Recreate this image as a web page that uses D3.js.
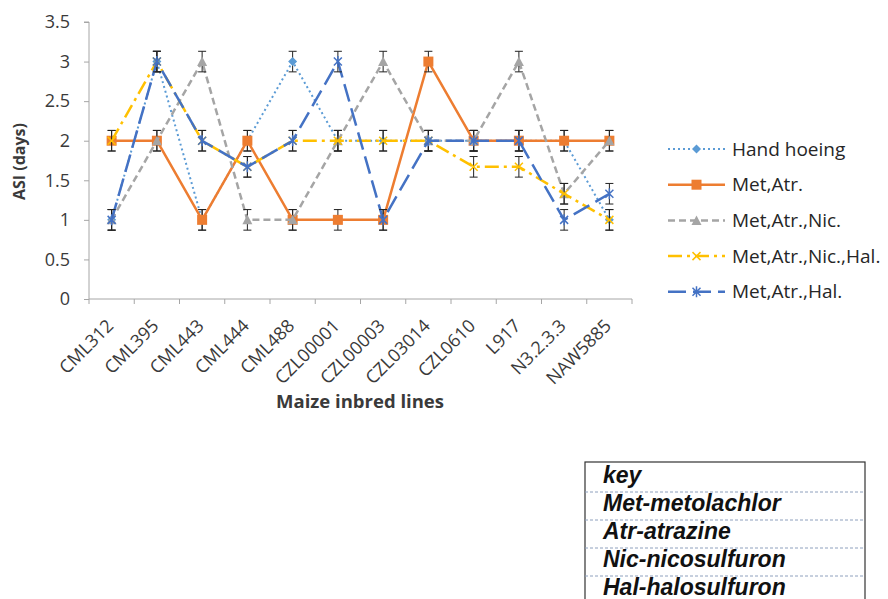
<!DOCTYPE html>
<html>
<head>
<meta charset="utf-8">
<script src="https://cdn.jsdelivr.net/npm/d3@7"></script>
<style>
  body { margin: 0; background: #fff; }
  svg { display: block; }
</style>
</head>
<body>
<svg id="chart"></svg>
<script>
const WIDTH = 888;
const HEIGHT = 599;

// Plot area edges, in pixels.
const LEFT = 89;
const RIGHT = 632;
const TOP = 22;
const BOTTOM = 299;

const ERR = 0.13; // error bar half length, in days

const lines = ['CML312', 'CML395', 'CML443', 'CML444', 'CML488', 'CZL00001',
  'CZL00003', 'CZL03014', 'CZL0610', 'L917', 'N3.2.3.3', 'NAW5885'];

const seriesNames = ['Hand hoeing', 'Met,Atr.', 'Met,Atr.,Nic.',
  'Met,Atr.,Nic.,Hal.', 'Met,Atr.,Hal.'];

const handHoeing = [1, 3, 1, 2, 3, 2, 2, 2, 2, 2, 2, 1];
const metAtr = [2, 2, 1, 2, 1, 1, 1, 3, 2, 2, 2, 2];
const metAtrNic = [1, 2, 3, 1, 1, 2, 3, 2, 2, 3, 1.33, 2];
const metAtrNicHal = [2, 3, 2, 1.67, 2, 2, 2, 2, 1.67, 1.67, 1.33, 1];
const metAtrHal = [1, 3, 2, 1.67, 2, 3, 1, 2, 2, 2, 1, 1.33];

const yTicks = [0, 0.5, 1, 1.5, 2, 2.5, 3, 3.5];

const keyRows = ['key', 'Met-metolachlor', 'Atr-atrazine', 'Nic-nicosulfuron',
  'Hal-halosulfuron'];

// Drawing style of each series, in the same order as seriesNames.
const styles = [
  {color: '#5b9bd5', dash: '2,3', marker: 'diamond', width: 2},
  {color: '#ed7d31', dash: null, marker: 'square', width: 2.5},
  {color: '#a5a5a5', dash: '7,4', marker: 'triangle', width: 2.5},
  {color: '#ffc000', dash: '14,5,3,5', marker: 'x', width: 2.5},
  {color: '#4472c4', dash: '18,7', marker: 'star', width: 2.5}
];

const allValues = [handHoeing, metAtr, metAtrNic, metAtrNicHal, metAtrHal];
const series = seriesNames.map((name, i) => ({
  name,
  style: styles[i],
  values: allValues[i].map((v, j) => ({line: lines[j], value: v}))
}));

const svg = d3.select('#chart').attr('width', WIDTH).attr('height', HEIGHT);

const xScale = d3.scaleBand().domain(lines).range([LEFT, RIGHT]);
const yScale = d3.scaleLinear().domain([0, 3.5]).range([BOTTOM, TOP]);
const cx = d => xScale(d.line) + xScale.bandwidth() / 2;

const FONT = "'Open Sans', sans-serif";
const TEXT_COLOR = '#3a3a3a';
const AXIS_COLOR = '#a6a6a6';

// Y axis
const yAxisGroup = svg.append('g')
  .attr('transform', `translate(${LEFT},0)`)
  .call(d3.axisLeft(yScale).tickValues(yTicks).tickSize(5).tickPadding(14)
    .tickFormat(d3.format('')));
yAxisGroup.selectAll('path, line').attr('stroke', AXIS_COLOR);
yAxisGroup.select('.domain').attr('d', `M-5,${TOP}H0V${BOTTOM}`);
yAxisGroup.selectAll('text')
  .attr('font-family', FONT).attr('font-size', 18).attr('fill', TEXT_COLOR);

// X axis: ticks sit on the category boundaries, as in the reference.
const xAxisGroup = svg.append('g')
  .attr('transform', `translate(0,${BOTTOM})`);
xAxisGroup.append('line')
  .attr('x1', LEFT).attr('x2', RIGHT).attr('stroke', AXIS_COLOR);
xAxisGroup.selectAll('.tick')
  .data(lines.concat(['end']))
  .join('line')
  .attr('x1', (d, i) => LEFT + i * xScale.bandwidth())
  .attr('x2', (d, i) => LEFT + i * xScale.bandwidth())
  .attr('y1', 0).attr('y2', 5)
  .attr('stroke', AXIS_COLOR);
xAxisGroup.selectAll('text')
  .data(lines)
  .join('text')
  .attr('transform', d => `translate(${xScale(d) + xScale.bandwidth() / 2 + 3},28) rotate(-45)`)
  .attr('text-anchor', 'end')
  .attr('font-family', FONT).attr('font-size', 18).attr('fill', TEXT_COLOR)
  .text(d => d);

// Axis titles
svg.append('text')
  .attr('transform', `translate(25,${(TOP + BOTTOM) / 2 + 1}) rotate(-90)`)
  .attr('text-anchor', 'middle')
  .attr('font-family', FONT).attr('font-size', 16).attr('font-weight', 'bold')
  .attr('fill', TEXT_COLOR)
  .text('ASI (days)');
svg.append('text')
  .attr('x', 360).attr('y', 408)
  .attr('text-anchor', 'middle')
  .attr('font-family', FONT).attr('font-size', 18.5).attr('font-weight', 'bold')
  .attr('fill', TEXT_COLOR)
  .text('Maize inbred lines');

// Markers
function drawMarker(g, style) {
  const c = style.color;
  switch (style.marker) {
    case 'diamond':
      g.append('path').attr('d', 'M0,-4.5L4.5,0L0,4.5L-4.5,0Z').attr('fill', c);
      break;
    case 'square':
      g.append('rect').attr('x', -5).attr('y', -5).attr('width', 10).attr('height', 10)
        .attr('fill', c);
      break;
    case 'triangle':
      g.append('path').attr('d', 'M0,-5L5,4.5L-5,4.5Z').attr('fill', c);
      break;
    case 'x':
      g.append('path').attr('d', 'M-4,-4L4,4M-4,4L4,-4')
        .attr('stroke', c).attr('stroke-width', 1.5).attr('fill', 'none');
      break;
    case 'star':
      g.append('path').attr('d', 'M-4,-4L4,4M-4,4L4,-4M0,-5.5V5.5')
        .attr('stroke', c).attr('stroke-width', 1.5).attr('fill', 'none');
      break;
  }
}

const lineGen = d3.line().x(cx).y(d => yScale(d.value));

const plot = svg.append('g');
series.forEach(s => {
  const g = plot.append('g');
  g.append('path')
    .datum(s.values)
    .attr('d', lineGen)
    .attr('fill', 'none')
    .attr('stroke', s.style.color)
    .attr('stroke-width', s.style.width)
    .attr('stroke-dasharray', s.style.dash)
    .attr('stroke-linejoin', 'round');

  // Error bars
  const err = g.selectAll('.err')
    .data(s.values)
    .join('g')
    .attr('transform', d => `translate(${cx(d)},0)`)
    .attr('stroke', '#222')
    .attr('stroke-width', 1);
  err.append('line')
    .attr('y1', d => yScale(d.value - ERR)).attr('y2', d => yScale(d.value + ERR));
  err.append('line').attr('x1', -4).attr('x2', 4)
    .attr('y1', d => yScale(d.value + ERR)).attr('y2', d => yScale(d.value + ERR));
  err.append('line').attr('x1', -4).attr('x2', 4)
    .attr('y1', d => yScale(d.value - ERR)).attr('y2', d => yScale(d.value - ERR));

  g.selectAll('.mk')
    .data(s.values)
    .join('g')
    .attr('transform', d => `translate(${cx(d)},${yScale(d.value)})`)
    .each(function () { drawMarker(d3.select(this), s.style); });
});

// Legend
const legend = svg.append('g').attr('transform', 'translate(668,149)');
const legendRows = legend.selectAll('g')
  .data(series)
  .join('g')
  .attr('transform', (d, i) => `translate(0,${i * 35.7})`);
legendRows.append('line')
  .attr('x1', 0).attr('x2', 57)
  .attr('stroke', d => d.style.color)
  .attr('stroke-width', d => d.style.width)
  .attr('stroke-dasharray', d => d.style.dash);
legendRows.append('g')
  .attr('transform', 'translate(28.5,0)')
  .each(function (d) { drawMarker(d3.select(this), d.style); });
legendRows.append('text')
  .attr('x', 64).attr('dy', '0.35em')
  .attr('font-family', FONT).attr('font-size', 19).attr('fill', '#262626')
  .text(d => d.name);

// Key table
const KEY_X = 585;
const KEY_W = 280;
const KEY_TOP = 462;
const KEY_ROW = 28;
const key = svg.append('g');
key.append('rect')
  .attr('x', KEY_X).attr('y', KEY_TOP)
  .attr('width', KEY_W).attr('height', KEY_ROW * keyRows.length + 4)
  .attr('fill', '#fff').attr('stroke', '#333').attr('stroke-width', 1.2);
key.selectAll('line')
  .data(keyRows.slice(1))
  .join('line')
  .attr('x1', KEY_X).attr('x2', KEY_X + KEY_W)
  .attr('y1', (d, i) => KEY_TOP + 30 + i * KEY_ROW)
  .attr('y2', (d, i) => KEY_TOP + 30 + i * KEY_ROW)
  .attr('stroke', '#8ea0bd').attr('stroke-width', 1).attr('stroke-dasharray', '3,2');
key.selectAll('text')
  .data(keyRows)
  .join('text')
  .attr('x', KEY_X + 18)
  .attr('y', (d, i) => KEY_TOP + 21 + i * KEY_ROW)
  .attr('font-family', "'Liberation Sans', Arial, sans-serif")
  .attr('font-size', 23).attr('font-weight', 'bold').attr('font-style', 'italic')
  .attr('fill', '#111')
  .text(d => d);
</script>
</body>
</html>
